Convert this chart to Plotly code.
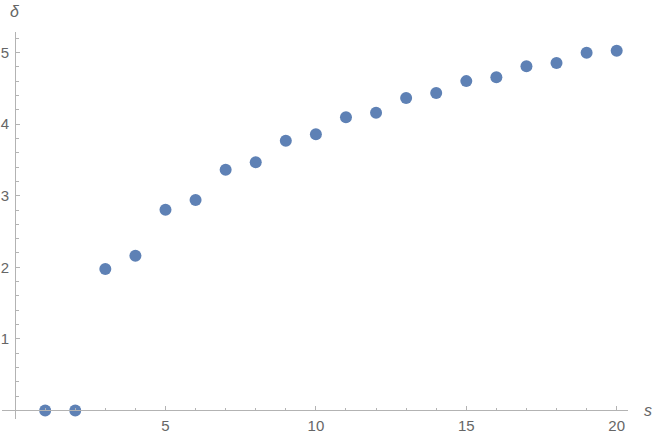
import plotly.graph_objects as go

s_vals = list(range(1, 21))
delta_vals = [0.0, 0.0, 1.976, 2.162, 2.805, 2.94, 3.363, 3.466, 3.768, 3.857,
              4.095, 4.158, 4.365, 4.434, 4.60, 4.654, 4.807, 4.853, 4.997, 5.025]
x_ticks = [5, 10, 15, 20]
y_ticks = [1, 2, 3, 4, 5]

xr = [-0.435, 20.376]
yr = [-0.119, 5.286]

axis_col = "#b3b3b3"
lab_col = "#666666"
font_fam = "Liberation Sans, Arial, sans-serif"

fig = go.Figure()
fig.add_trace(go.Scatter(
    x=s_vals, y=delta_vals, mode="markers",
    marker=dict(color="#5E81B5", size=12, line=dict(width=0)),
    cliponaxis=False, showlegend=False,
))

fig.update_layout(
    width=654, height=440,
    margin=dict(l=2, r=26, t=32, b=21, pad=0),
    paper_bgcolor="white", plot_bgcolor="white",
    font=dict(family=font_fam, size=15, color=lab_col),
    xaxis=dict(
        range=xr, anchor="free", position=(0 - yr[0]) / (yr[1] - yr[0]),
        showline=True, linecolor=axis_col, linewidth=1,
        showgrid=False, zeroline=False,
        tickmode="array", tickvals=x_ticks, ticktext=[str(v) for v in x_ticks],
        ticks="inside", ticklen=4, tickcolor=axis_col, tickwidth=1,
        minor=dict(dtick=1, tick0=0, ticks="inside", ticklen=2.5, tickcolor=axis_col, showgrid=False),
        tickfont=dict(family=font_fam, size=15, color=lab_col),
        ticklabelstandoff=2,
        automargin=False,
    ),
    yaxis=dict(
        range=yr, anchor="free", position=(0 - xr[0]) / (xr[1] - xr[0]),
        showline=True, linecolor=axis_col, linewidth=1,
        showgrid=False, zeroline=False,
        tickmode="array", tickvals=y_ticks, ticktext=[str(v) for v in y_ticks],
        ticks="inside", ticklen=4, tickcolor=axis_col, tickwidth=1,
        minor=dict(dtick=0.2, tick0=0, ticks="inside", ticklen=2.5, tickcolor=axis_col, showgrid=False),
        tickfont=dict(family=font_fam, size=15, color=lab_col),
        ticklabelstandoff=3,
        automargin=False,
    ),
    annotations=[
        dict(x=1.032, y=0.0207, xref="paper", yref="paper", text="<i>s</i>", showarrow=False,
             font=dict(family=font_fam, size=16, color=lab_col), xanchor="center", yanchor="middle"),
        dict(x=0.0208, y=1.0517, xref="paper", yref="paper", text="<i>δ</i>", showarrow=False,
             font=dict(family=font_fam, size=16, color=lab_col), xanchor="center", yanchor="middle"),
    ],
)

fig.write_html("out.html", config={"displayModeBar": False},
               post_script="document.body.style.margin='0';")
